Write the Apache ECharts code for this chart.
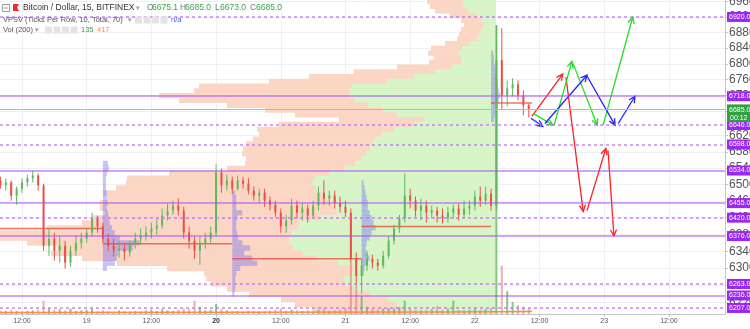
<!DOCTYPE html>
<html><head><meta charset="utf-8">
<script src="https://cdn.jsdelivr.net/npm/echarts@6/dist/echarts.min.js"></script>
<style>html,body{margin:0;padding:0;background:#fff}#c{width:750px;height:329px}</style>
</head><body><div id="c"></div>
<script>
// ---------- DATA ----------
// time measured in hours since the 18th 00:00; one candle per hour
const startHour = 8;
// [open, close, low, high]
const candles = [
[6510,6498,6490,6519],[6498,6505,6485,6515],[6505,6473,6461,6510],[6473,6490,6451,6495],
[6490,6505,6480,6515],[6505,6515,6495,6524],[6515,6522,6505,6534],[6522,6498,6485,6527],
[6498,6353,6341,6502],[6353,6370,6329,6394],[6370,6341,6318,6384],[6341,6353,6313,6375],
[6353,6313,6299,6365],[6313,6341,6303,6353],[6341,6360,6329,6377],[6360,6370,6346,6384],
[6370,6384,6360,6394],[6384,6418,6375,6432],[6418,6399,6384,6425],[6399,6370,6360,6408],
[6370,6353,6341,6382],[6353,6341,6327,6370],[6341,6346,6325,6365],[6346,6337,6318,6356],
[6337,6358,6327,6365],[6358,6370,6346,6384],[6370,6377,6356,6394],[6377,6384,6365,6399],
[6384,6394,6370,6408],[6394,6401,6379,6418],[6401,6425,6394,6442],[6425,6437,6413,6454],
[6437,6449,6427,6461],[6449,6437,6425,6466],[6437,6384,6370,6446],[6384,6365,6346,6399],
[6365,6341,6322,6375],[6341,6358,6308,6375],[6358,6370,6346,6384],[6370,6384,6360,6399],
[6384,6529,6375,6549],[6529,6498,6480,6539],[6498,6510,6485,6524],[6510,6490,6478,6519],
[6490,6510,6485,6522],[6510,6502,6490,6519],[6502,6485,6476,6515],[6485,6473,6461,6495],
[6473,6480,6456,6490],[6480,6461,6446,6490],[6461,6451,6437,6471],[6451,6432,6422,6461],
[6432,6399,6384,6442],[6399,6413,6384,6427],[6413,6449,6403,6466],[6449,6432,6418,6461],
[6432,6442,6413,6456],[6442,6425,6408,6451],[6425,6449,6418,6461],[6449,6480,6437,6495],
[6480,6466,6451,6510],[6466,6473,6449,6485],[6473,6456,6442,6485],[6456,6446,6432,6471],
[6446,6432,6422,6461],[6432,6322,6313,6442],[6322,6282,6259,6337],[6282,6306,6240,6322],
[6306,6322,6294,6337],[6322,6313,6299,6332],[6313,6306,6294,6322],[6306,6329,6299,6341],
[6329,6365,6322,6375],[6365,6394,6356,6403],[6394,6418,6384,6427],[6418,6473,6408,6527],
[6473,6461,6442,6490],[6461,6437,6422,6471],[6437,6449,6413,6466],[6449,6432,6408,6461],
[6432,6437,6418,6449],[6437,6425,6408,6446],[6425,6418,6406,6442],[6418,6432,6408,6446],
[6432,6442,6418,6451],[6442,6427,6413,6454],[6427,6442,6418,6461],[6442,6449,6427,6461],
[6449,6471,6437,6485],[6471,6461,6446,6495],[6461,6478,6451,6495],[6478,6449,6437,6490],
[6449,6809,6437,6899],[6809,6720,6683,6891],[6720,6738,6693,6758],[6738,6748,6718,6763],
[6748,6720,6708,6758],[6720,6695,6670,6733],[6695,6685,6665,6700]
];
const volumes = [
600,500,700,500,400,500,600,700,2200,900,
700,800,600,900,500,600,700,900,500,600,
500,400,600,500,400,500,400,600,700,500,
800,600,500,700,900,800,2200,1200,600,700,
1700,800,600,500,500,400,600,500,400,500,
600,700,900,500,700,600,500,600,400,700,
800,500,600,700,900,8500,4700,3000,1200,800,
700,900,1000,900,1100,2200,900,700,600,700,
800,1300,700,900,2200,700,600,700,900,700,
800,1000,47800,8000,3800,2000,1500,1200,900
];
const volMAHours = [8, 50, 90, 100, 106.6];
const volMAValues = [250, 280, 330, 380, 417];

// visible-range volume profile (rows of 12$)
const profilePrices = [6960,6948,6936,6924,6912,6900,6888,6876,6864,6852,6840,6828,6816,6804,6792,6780,6768,6756,6744,6732,6720,6708,6696,6684,6672,6660,6648,6636,6624,6612,6600,6588,6576,6564,6552,6540,6528,6516,6504,6492,6480,6468,6456,6444,6432,6420,6408,6396,6384,6372,6360,6348,6336,6324,6312,6300,6288,6276,6264,6252,6240,6228,6216,6204,6192];
const profileUp = [33,32,28,19,15,12,14,17,19,26,34,38,35,34,44,61,82,109,144,147,147,142,128,113,99,72,82,102,115,121,124,126,130,135,141,151,167,181,184,180,175,170,165,160,159,176,197,199,204,207,207,203,193,178,158,142,144,152,150,142,126,108,99,91,87];
const profileDown = [36,34,33,27,20,20,21,20,20,25,31,30,27,33,55,81,105,118,153,155,190,175,141,118,102,85,135,137,122,122,126,127,124,115,110,118,160,188,186,200,218,219,231,236,232,227,217,250,293,290,262,236,252,236,221,187,148,138,135,127,121,107,102,93,90];
const profileAnchorHour = 100;

// session profiles
const sessionStarts = [27, 51, 75, 99];
const s1Prices = [6552,6540,6528,6516,6504,6492,6480,6468,6456,6444,6432,6420,6408,6396,6384,6372,6360,6348,6336,6324,6312,6300];
const s1Vols   = [5,6,4,3,3,3,4,4,5,4,5,6,7,9,12,17,37,30,15,14,12,4];
const s2Prices = [6480,6468,6456,6444,6432,6420,6408,6396,6384,6372,6360,6348,6336,6324,6312,6300,6288,6276,6264,6252,6240];
const s2Vols   = [3,4,4,4,10,5,4,4,5,6,10,18,12,20,25,8,4,3,3,3,2];
const s3Prices = [6504,6492,6480,6468,6456,6444,6432,6420,6408,6396,6384,6372,6360,6348,6336,6324,6312,6300,6288];
const s3Vols   = [2,3,4,5,6,6,8,10,12,14,10,8,5,4,6,8,5,3,2];
const s4Prices = [6828,6816,6804,6792,6780,6768,6756,6744,6732,6720,6708,6696,6684,6672,6660];
const s4Vols   = [2,3,3,4,4,5,6,7,8,9,8,7,6,4,3];

const pocStarts = [3, 27, 51, 75, 99];
const pocEnds   = [27, 51, 75, 99, 106.6];
const pocPrices = [6394, 6358, 6322, 6399, 6701];

const solidLevels  = [6718, 6534, 6455, 6376, 6236];
const dashedLevels = [6920, 6646, 6598, 6420, 6263, 6207];
const lastPrice = 6685;
const countdown = '00:12';

// projected paths: [t1, p1, t2, p2]
const redArrows   = [[106.6,6668,112.3,6774],[112.9,6766,116.1,6435],[116.8,6437,120.3,6588],[120.7,6583,121.8,6376]];
const greenArrows = [[106.8,6675,110.5,6646],[110.7,6646,114.0,6806],[114.2,6801,118.7,6646],[119.8,6646,125.3,6920]];
const blueArrows  = [[106.4,6663,108.6,6643],[109.0,6650,116.8,6771],[116.8,6769,122.0,6646],[122.6,6650,125.7,6718]];

const timeTicks  = [12,24,36,48,60,72,84,96,108,120,132];
const priceTicks = [6960,6920,6880,6840,6800,6760,6720,6680,6620,6580,6540,6500,6460,6420,6380,6340,6300,6260,6220];

// ---------- CHART ----------
const xMin = 7.92, xMax = 142.4, yMin = 6193, yMax = 6964;
const FONT = 'Liberation Sans, Arial, sans-serif';
const upColor = '#5fb85a', downColor = '#ec4f45';
const levelColor = 'rgba(170, 80, 245, 0.7)';
const tagColor = '#9b27f3';

const chart = echarts.init(document.getElementById('c'));

const candleData = candles.map((c, i) => [startHour + i, c[0], c[1], c[2], c[3]]);
const volData = volumes.map((v, i) => [startHour + i, v, candles[i][1] >= candles[i][0] ? 1 : 0]);
const profData = profilePrices.map((p, i) => [profileUp[i] + profileDown[i], p, profileUp[i]]);
const sessData = [];
[[s1Prices, s1Vols], [s2Prices, s2Vols], [s3Prices, s3Vols], [s4Prices, s4Vols]].forEach((s, k) => {
  s[0].forEach((p, i) => sessData.push([sessionStarts[k], p, s[1][i]]));
});
const pocData = pocPrices.map((p, i) => [pocStarts[i], p, pocEnds[i]]);

function renderCandle(params, api) {
  const t = api.value(0), o = api.value(1), c = api.value(2), l = api.value(3), h = api.value(4);
  const pO = api.coord([t, o]), pC = api.coord([t, c]), pL = api.coord([t, l]), pH = api.coord([t, h]);
  const col = c >= o ? upColor : downColor;
  const top = Math.min(pO[1], pC[1]), bot = Math.max(pO[1], pC[1]);
  const w = 2;
  return { type: 'group', children: [
    { type: 'line', shape: { x1: pH[0], y1: pH[1], x2: pL[0], y2: pL[1] }, style: { stroke: col, lineWidth: 1 } },
    { type: 'rect', shape: { x: pO[0] - w / 2, y: top, width: w, height: Math.max(1, bot - top) }, style: { fill: col } }
  ]};
}
function renderVol(params, api) {
  const t = api.value(0), v = api.value(1), up = api.value(2);
  const a = api.coord([t, 0]), b = api.coord([t, v]);
  return { type: 'rect', shape: { x: a[0] - 1, y: b[1], width: 2, height: a[1] - b[1] },
    style: { fill: up ? 'rgba(90,185,90,0.75)' : 'rgba(230,110,105,0.55)' } };
}
function renderProfile(params, api) {
  const tot = api.value(0), p = api.value(1), up = api.value(2);
  const a = api.coord([0, p + 6]), b = api.coord([tot, p - 6]), c = api.coord([up, p - 6]);
  return { type: 'group', children: [
    { type: 'rect', shape: { x: b[0], y: a[1], width: a[0] - b[0], height: b[1] - a[1] + 0.5 }, style: { fill: '#fcd6c4' } },
    { type: 'rect', shape: { x: c[0], y: a[1], width: a[0] - c[0], height: c[1] - a[1] + 0.5 }, style: { fill: '#d6f6c8' } }
  ]};
}
function renderSession(params, api) {
  const t = api.value(0), p = api.value(1), v = api.value(2);
  const a = api.coord([t, p + 6]), b = api.coord([t, p - 6]);
  return { type: 'rect', shape: { x: a[0], y: a[1], width: v, height: b[1] - a[1] + 0.3 },
    style: { fill: 'rgba(120,115,240,0.42)' } };
}
function renderPoc(params, api) {
  const a = api.coord([api.value(0), api.value(1)]), b = api.coord([api.value(2), api.value(1)]);
  return { type: 'line', shape: { x1: a[0], y1: a[1], x2: b[0], y2: b[1] }, style: { stroke: 'rgba(235,70,60,0.75)', lineWidth: 1.5 } };
}
function arrowRenderer(color) {
  return function (params, api) {
    const a = api.coord([api.value(0), api.value(1)]);
    const b = api.coord([api.value(2), api.value(3)]);
    const ang = Math.atan2(b[1] - a[1], b[0] - a[0]);
    const L = 7, sp = Math.PI / 7;
    const h1 = [b[0] - L * Math.cos(ang - sp), b[1] - L * Math.sin(ang - sp)];
    const h2 = [b[0] - L * Math.cos(ang + sp), b[1] - L * Math.sin(ang + sp)];
    return { type: 'group', children: [
      { type: 'line', shape: { x1: a[0], y1: a[1], x2: b[0], y2: b[1] }, style: { stroke: color, lineWidth: 1.3 } },
      { type: 'polyline', shape: { points: [h1, b, h2] }, style: { stroke: color, lineWidth: 1.3, fill: null } }
    ]};
  };
}
function tagLabel(bg) {
  return { show: true, position: 'end', distance: 2, formatter: p => p.value.toFixed(1),
    color: '#fff', fontSize: 7, fontFamily: FONT, backgroundColor: bg, padding: [2, 2, 1, 2] };
}

const levelMarks = [];
solidLevels.forEach(v => levelMarks.push({ yAxis: v, lineStyle: { color: levelColor, width: 1.5, type: 'solid' }, label: tagLabel(tagColor) }));
dashedLevels.forEach(v => levelMarks.push({ yAxis: v, lineStyle: { color: 'rgba(190,110,250,0.85)', width: 1.5, type: [3, 3] }, label: tagLabel(tagColor) }));
levelMarks.push({ yAxis: lastPrice, lineStyle: { color: '#8fd48c', width: 1, type: 'solid' },
  label: { show: true, position: 'end', distance: 2, offset: [0, 4], fontFamily: FONT,
    formatter: p => '{a|' + p.value.toFixed(1) + '}\n{b|' + countdown + '}',
    rich: { a: { color: '#fff', fontSize: 7, backgroundColor: '#2fa043', padding: [2, 2, 1, 2], lineHeight: 9 },
            b: { color: '#fff', fontSize: 7, backgroundColor: '#2fa043', padding: [1, 3, 0, 3], lineHeight: 8 } } } });

const option = {
  animation: false,
  backgroundColor: '#fff',
  textStyle: { fontFamily: FONT },
  grid: [{ left: 0, right: 25, top: 0, bottom: 15, outerBoundsMode: 'none' },
         { left: 0, right: 254, top: 0, bottom: 15, outerBoundsMode: 'none' }],
  xAxis: [
    { type: 'value', gridIndex: 0, min: xMin, max: xMax,
      axisLine: { show: true, lineStyle: { color: '#c3c6cc' } },
      axisTick: { show: true, customValues: timeTicks, length: 3, lineStyle: { color: '#c3c6cc' } },
      axisLabel: { customValues: timeTicks, fontSize: 7, color: '#555', margin: 4,
        formatter: v => (v % 24 === 12 ? '12:00' : (18 + v / 24 === 20 ? '{b|20}' : String(18 + v / 24))),
        rich: { b: { fontWeight: 'bold', fontSize: 7, color: '#333' } } },
      splitLine: { show: true, lineStyle: { color: '#eef0f4', width: 1 } } },
    { type: 'value', gridIndex: 1, inverse: true, min: 0, max: 496, show: false }
  ],
  yAxis: [
    { type: 'log', gridIndex: 0, position: 'right', min: yMin, max: yMax, logBase: 10,
      axisLine: { show: true, lineStyle: { color: '#c3c6cc' } },
      axisTick: { show: true, customValues: priceTicks, length: 3, lineStyle: { color: '#c3c6cc' } },
      axisLabel: { customValues: priceTicks, fontSize: 12, color: '#555', margin: 4, formatter: v => String(Math.round(v)) },
      splitLine: { show: true, lineStyle: { color: '#eef0f4', width: 1 } } },
    { type: 'value', gridIndex: 0, min: 0, max: 52000, show: false },
    { type: 'log', gridIndex: 1, min: yMin, max: yMax, show: false }
  ],
  series: [
    { type: 'custom', name: 'profile', xAxisIndex: 1, yAxisIndex: 2, renderItem: renderProfile, data: profData, z: 1, clip: true, silent: true,
      encode: { x: 0, y: 1 } },
    { type: 'custom', name: 'sessions', xAxisIndex: 0, yAxisIndex: 0, renderItem: renderSession, data: sessData, z: 2, clip: true, silent: true,
      encode: { x: 0, y: 1 } },
    { type: 'custom', name: 'poc', xAxisIndex: 0, yAxisIndex: 0, renderItem: renderPoc, data: pocData, z: 2, clip: true, silent: true,
      encode: { x: [0, 2], y: 1 },
      markLine: { silent: true, symbol: ['none', 'none'], animation: false, data: levelMarks } },
    { type: 'custom', name: 'volume', xAxisIndex: 0, yAxisIndex: 1, renderItem: renderVol, data: volData, z: 3, clip: true, silent: true,
      encode: { x: 0, y: 1 } },
    { type: 'line', name: 'volMA', xAxisIndex: 0, yAxisIndex: 1, data: volMAHours.map((h, i) => [h, volMAValues[i]]),
      showSymbol: false, lineStyle: { color: '#ff8c3a', width: 1.5 }, z: 3, silent: true },
    { type: 'custom', name: 'candles', xAxisIndex: 0, yAxisIndex: 0, renderItem: renderCandle, data: candleData, z: 3, clip: true, silent: true,
      encode: { x: 0, y: [1, 2, 3, 4] } },
    { type: 'custom', name: 'red', renderItem: arrowRenderer('#ff2020'), data: redArrows, z: 4, silent: true, encode: { x: [0, 2], y: [1, 3] } },
    { type: 'custom', name: 'green', renderItem: arrowRenderer('#22dd22'), data: greenArrows, z: 4, silent: true, encode: { x: [0, 2], y: [1, 3] } },
    { type: 'custom', name: 'blue', renderItem: arrowRenderer('#2424ff'), data: blueArrows, z: 4, silent: true, encode: { x: [0, 2], y: [1, 3] } }
  ],
  graphic: [
    { type: 'rect', shape: { x: 2.5, y: 4.5, width: 7, height: 7 }, style: { fill: '#fff', stroke: '#999', lineWidth: 1 }, z: 10 },
    { type: 'line', shape: { x1: 4, y1: 8, x2: 8, y2: 8 }, style: { stroke: '#999', lineWidth: 1 }, z: 10 },
    { type: 'polygon', shape: { points: [[13, 4], [19, 4], [17, 7.5], [19, 11], [13, 11]] }, style: { fill: '#ee2b2b' }, z: 10 },
    { type: 'text', x: 23, y: 8, style: { text: 'Bitcoin / Dollar, 15, BITFINEX', fill: '#333', font: '8.5px ' + FONT, verticalAlign: 'middle' }, z: 10 },
    { type: 'text', x: 136, y: 8, style: { text: '▾', fill: '#999', font: '7px ' + FONT, verticalAlign: 'middle' }, z: 10 },
    { type: 'text', x: 147, y: 8, style: { text: 'O', fill: '#777', font: '8.5px ' + FONT, verticalAlign: 'middle' }, z: 10 },
    { type: 'text', x: 152, y: 8, style: { text: '6675.1', fill: '#3aa34a', font: '8.5px ' + FONT, verticalAlign: 'middle' }, z: 10 },
    { type: 'text', x: 180, y: 8, style: { text: 'H', fill: '#777', font: '8.5px ' + FONT, verticalAlign: 'middle' }, z: 10 },
    { type: 'text', x: 185, y: 8, style: { text: '6685.0', fill: '#3aa34a', font: '8.5px ' + FONT, verticalAlign: 'middle' }, z: 10 },
    { type: 'text', x: 215, y: 8, style: { text: 'L', fill: '#777', font: '8.5px ' + FONT, verticalAlign: 'middle' }, z: 10 },
    { type: 'text', x: 220, y: 8, style: { text: '6673.0', fill: '#3aa34a', font: '8.5px ' + FONT, verticalAlign: 'middle' }, z: 10 },
    { type: 'text', x: 250, y: 8, style: { text: 'C', fill: '#777', font: '8.5px ' + FONT, verticalAlign: 'middle' }, z: 10 },
    { type: 'text', x: 256, y: 8, style: { text: '6685.0', fill: '#3aa34a', font: '8.5px ' + FONT, verticalAlign: 'middle' }, z: 10 },
    { type: 'text', x: 3, y: 20, style: { text: 'VPSV (Ticks Per Row, 10, Total, 70)', fill: '#555', font: '7.5px ' + FONT, verticalAlign: 'middle' }, z: 10 },
    { type: 'text', x: 128, y: 20, style: { text: '▾', fill: '#999', font: '7px ' + FONT, verticalAlign: 'middle' }, z: 10 },
    { type: 'rect', shape: { x: 135, y: 16.5, width: 7, height: 7 }, style: { fill: '#e4e4e4' }, z: 10 },
    { type: 'rect', shape: { x: 143.5, y: 16.5, width: 7, height: 7 }, style: { fill: '#e4e4e4' }, z: 10 },
    { type: 'rect', shape: { x: 152, y: 16.5, width: 7, height: 7 }, style: { fill: '#e4e4e4' }, z: 10 },
    { type: 'rect', shape: { x: 160.5, y: 16.5, width: 7, height: 7 }, style: { fill: '#e4e4e4' }, z: 10 },
    { type: 'text', x: 171, y: 20, style: { text: 'n/a', fill: '#3b5bf5', font: '7.5px ' + FONT, verticalAlign: 'middle' }, z: 10 },
    { type: 'text', x: 3, y: 30, style: { text: 'Vol (200)', fill: '#555', font: '7.5px ' + FONT, verticalAlign: 'middle' }, z: 10 },
    { type: 'text', x: 35, y: 30, style: { text: '▾', fill: '#999', font: '7px ' + FONT, verticalAlign: 'middle' }, z: 10 },
    { type: 'rect', shape: { x: 45, y: 26.5, width: 7, height: 7 }, style: { fill: '#e4e4e4' }, z: 10 },
    { type: 'rect', shape: { x: 53.5, y: 26.5, width: 7, height: 7 }, style: { fill: '#e4e4e4' }, z: 10 },
    { type: 'rect', shape: { x: 62, y: 26.5, width: 7, height: 7 }, style: { fill: '#e4e4e4' }, z: 10 },
    { type: 'rect', shape: { x: 70.5, y: 26.5, width: 7, height: 7 }, style: { fill: '#e4e4e4' }, z: 10 },
    { type: 'text', x: 81, y: 30, style: { text: '135', fill: '#3aa34a', font: '7.5px ' + FONT, verticalAlign: 'middle' }, z: 10 },
    { type: 'text', x: 97, y: 30, style: { text: '417', fill: '#ff8c3a', font: '7.5px ' + FONT, verticalAlign: 'middle' }, z: 10 }
  ]
};
chart.setOption(option);
</script>
</body></html>
